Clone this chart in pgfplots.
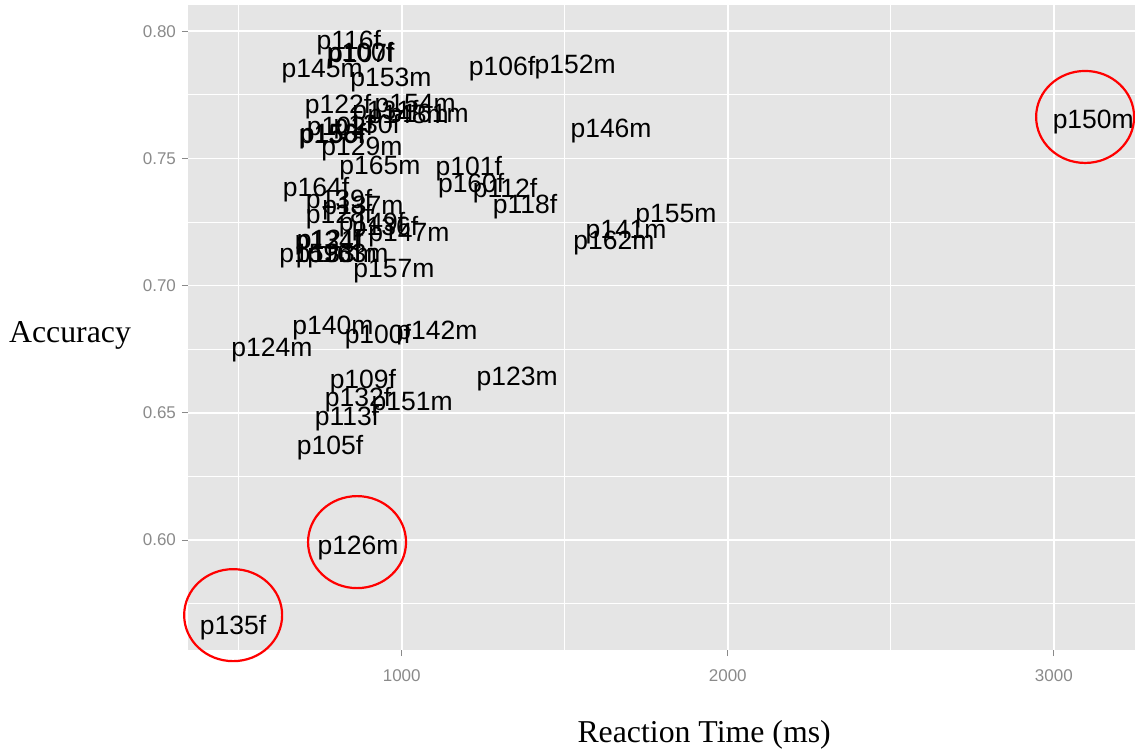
\documentclass[border=0pt]{standalone}
\usepackage{fontspec}
\setmainfont{Liberation Serif}
\newfontfamily\arial{Liberation Sans}
\usepackage{pgfplots}
\usepackage{pgfplotstable}
\pgfplotsset{compat=1.18}
\definecolor{panel}{HTML}{E5E5E5}
\definecolor{tickgray}{HTML}{8A8A8A}

\pgfplotstableread{
x y label
838 0.7965 p116f
872 0.7918 p100f
876 0.7914 p107f
756 0.7855 p145m
967 0.7820 p153m
1308 0.7863 p106f
1532 0.7871 p152m
1642 0.7619 p146m
3121 0.7655 p150m
805 0.7714 p122f
1041 0.7718 p154m
1081 0.7678 p161m
950 0.7690 p131f
1020 0.7674 p148m
811 0.7627 p102f
893 0.7635 p130f
786 0.7596 p156f
789 0.7600 p158f
878 0.7549 p129m
737 0.7388 p164f
933 0.7474 p165m
1206 0.7470 p101f
1213 0.7404 p160f
1317 0.7384 p112f
1378 0.7321 p118f
1841 0.7285 p155m
1688 0.7222 p141m
1651 0.7179 p162m
808 0.7340 p139f
881 0.7318 p137m
808 0.7281 p128f
909 0.7250 p149f
949 0.7234 p136f
1022 0.7211 p147m
774 0.7179 p134f
780 0.7183 p121f
749 0.7128 p159m
800 0.7128 p133m
835 0.7128 p163m
976 0.7069 p157m
789 0.6845 p140m
927 0.6810 p100f
1108 0.6825 p142m
602 0.6759 p124m
881 0.6633 p109f
1354 0.6645 p123m
866 0.6562 p132f
1032 0.6546 p151m
832 0.6487 p113f
780 0.6373 p105f
866 0.5980 p126m
483 0.5666 p135f
}\labeltable

\pgfplotstableread{
x y
3096 0.7663
863 0.5992
483 0.5705
}\circletable

\begin{document}
\begin{tikzpicture}
\begin{axis}[
  scale only axis, width=473.5pt, height=322.5pt,
  xmin=344.5, xmax=3249, ymin=0.5568, ymax=0.8103,
  axis background/.style={fill=panel},
  axis line style={draw=none},
  xtick={1000,2000,3000}, ytick={0.6,0.65,0.7,0.75,0.8},
  minor xtick={500,1500,2500}, minor ytick={0.575,0.625,0.675,0.725,0.775},
  grid=both,
  major grid style={white, line width=0.8pt},
  minor grid style={white, line width=0.45pt},
  tick align=outside, tick pos=left,
  major tick length=3pt, minor tick length=0pt,
  tick style={tickgray, line width=0.5pt},
  ticklabel style={font=\arial\fontsize{8.5}{10}\selectfont, text=tickgray},
  /pgf/number format/assume math mode=true,
  x tick label style={/pgf/number format/1000 sep={}, yshift=-3.5pt},
  y tick label style={/pgf/number format/.cd, fixed, fixed zerofill, precision=2, /tikz/.cd, xshift=0.5pt},
  clip=false,
  xlabel={Reaction Time (ms)}, ylabel={Accuracy},
  xlabel style={at={(axis description cs:0.545,-0.1318)}, anchor=center, font=\fontsize{15.9}{18}\selectfont},
  ylabel style={at={(axis description cs:-0.1246,0.4870)}, anchor=center, rotate=-90, font=\fontsize{15.9}{18}\selectfont},
]
\addplot[draw=none, mark=none, nodes near coords, point meta=explicit symbolic,
  nodes near coords style={anchor=center, font=\arial\fontsize{13.25}{15}\selectfont, text=black, inner sep=0pt, text height=9.5pt, text depth=0pt}]
  table[x=x, y=y, meta=label] {\labeltable};
\addplot[only marks, mark=o, mark size=23pt, mark options={draw=red, line width=1.1pt, xscale=1.065}]
  table[x=x, y=y] {\circletable};
\end{axis}
\path (current axis.south west) ++(-94pt,-50pt) coordinate (bl);
\path (current axis.north east) ++(0pt,2.5pt) coordinate (tr);
\pgfresetboundingbox
\useasboundingbox (bl) rectangle (tr);
\end{tikzpicture}
\end{document}
